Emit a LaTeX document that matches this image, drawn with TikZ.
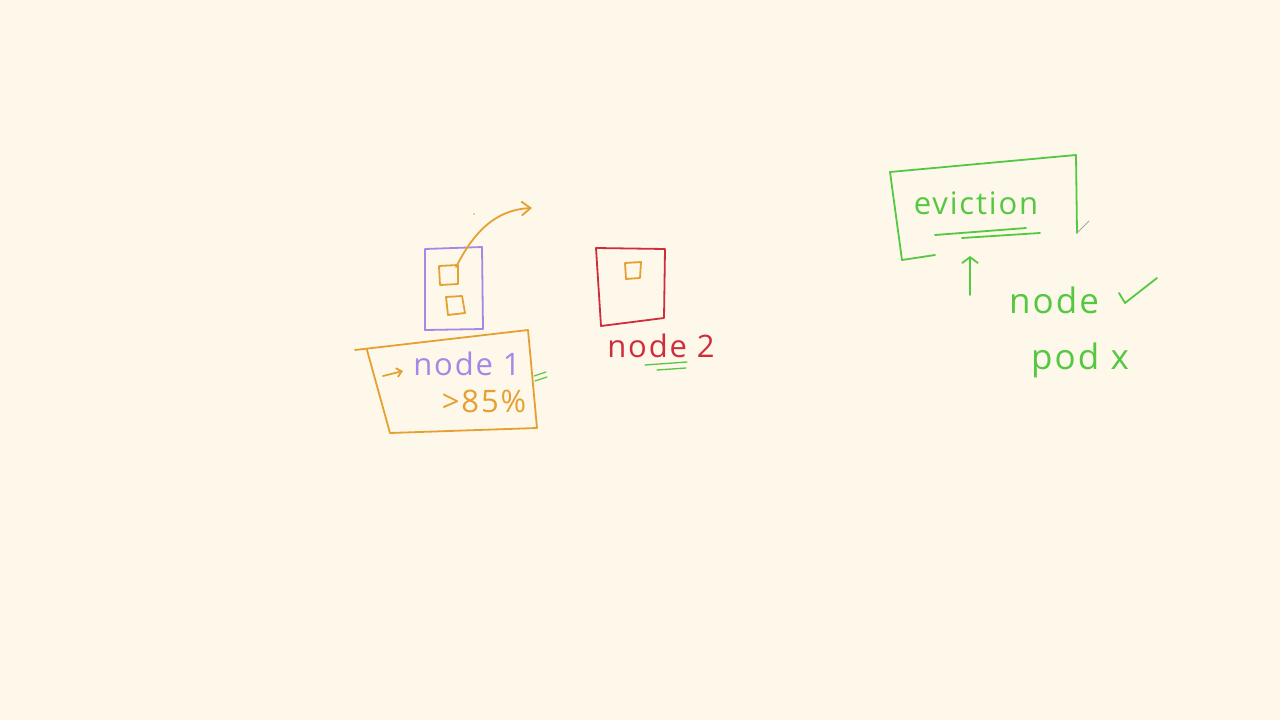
\documentclass[tikz,border=0pt]{standalone}
\usepackage{fontspec}
\setmainfont{Open Sans}[LetterSpace=6]
\usetikzlibrary{arrows.meta}
\definecolor{bg}{RGB}{253,248,233}
\definecolor{org}{RGB}{230,160,50}
\definecolor{pur}{RGB}{165,135,230}
\definecolor{rd}{RGB}{208,45,60}
\definecolor{grn}{RGB}{85,200,65}
\tikzset{
  pen/.style={line width=1.8pt, line cap=round, line join=round},
  hand/.style={font=\fontsize{31}{31}\selectfont, inner sep=0pt},
  bighand/.style={font=\fontsize{35}{35}\selectfont, inner sep=0pt},
  tipo/.style={-{Straight Barb[length=9pt,width=14pt,line width=1.8pt]}}
}
\begin{document}
\begin{tikzpicture}[x=1pt,y=-1pt]
\fill[bg] (0,0) rectangle (1280,720);
\useasboundingbox (0,0) rectangle (1280,720);
% node 1 (purple)
\draw[pen,pur] (425,249) -- (482,247) -- (483,329) -- (425,330) -- cycle;
\draw[pen,org] (439,266) -- (458,265) -- (458,284) -- (440,285) -- cycle;
\coordinate (sq1) at (456,267);
\draw[pen,org] (446,297) -- (462,296) -- (465,313) -- (448,315) -- cycle;
\coordinate (tgt) at (532,208);
\draw[pen,org,tipo] (sq1) .. controls (470,240) and (490,210) .. (tgt);
\fill[org] (474,214) circle (0.8);
% orange box
\draw[pen,org] (355,350) -- (528,330) -- (537,428) -- (390,433) -- (367,350);
\coordinate (a1) at (383,376);
\coordinate (a2) at (403,371);
\draw[pen,org,-{Straight Barb[length=5pt,width=9pt,line width=1.8pt]}] (a1) -- (a2);
\node[hand,pur] (n1) at (467,364) {node 1};
\node[hand,org] (pct) at (484,401) {>85\%};
\draw[pen,grn,line width=1.2pt] (534,376) -- (546,372) (535,381) -- (547,377);
% node 2 (red)
\draw[pen,rd] (596,248) -- (665,249) -- (664,318) -- (601,326) -- cycle;
\draw[pen,org] (625,263) -- (641,262) -- (640,278) -- (626,279) -- cycle;
\node[hand,rd] (n2) at (661,346) {node 2};
\draw[pen,grn,line width=1.3pt] (645,365) -- (687,362) (657,370) -- (686,368);
% eviction (green)
\draw[pen,grn] (935,255) -- (902,260) -- (890,172) -- (1076,155) -- (1077,233);
\node[hand,grn] (ev) at (976,203) {eviction};
\draw[pen,grn] (935,235) -- (1026,228) (962,238) -- (1040,233);
\coordinate (u1) at (970,295);
\coordinate (u2) at (970,256);
\draw[pen,grn,-{Straight Barb[length=6pt,width=16pt,line width=1.8pt]}] (u1) -- (u2);
\node[bighand,grn] (nd) at (1054,300) {node};
\draw[pen,grn] (1119,293) -- (1125,303) -- (1157,278);
\node[bighand,grn] (pd) at (1080,360) {pod x};
% pencil cursor
\draw[line width=0.8pt,gray!70] (1077,233) -- (1089,221);
\end{tikzpicture}
\end{document}
